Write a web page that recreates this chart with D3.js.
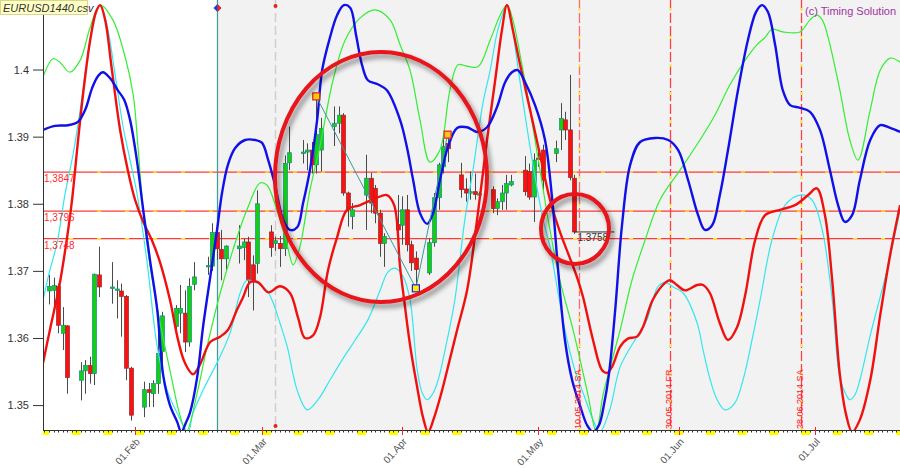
<!DOCTYPE html>
<html><head><meta charset="utf-8">
<script src="https://cdn.jsdelivr.net/npm/d3@7"></script>
<style>body{margin:0;background:#fff;}svg{display:block;font-family:"Liberation Sans",Arial,sans-serif;}</style>
</head><body><svg id="c" width="900" height="468"></svg>
<script>
// ---------- DATA ----------
const yTickValues = [1.35, 1.36, 1.37, 1.38, 1.39, 1.40];
const yTickLabels = ["1.35", "1.36", "1.37", "1.38", "1.39", "1.4"];
const monthTickDates = ["2014-02-01","2014-03-01","2014-04-01","2014-05-01","2014-06-01","2014-07-01"];
const monthTickLabels = ["01.Feb","01.Mar","01.Apr","01.May","01.Jun","01.Jul"];
const levelValues = [1.3847, 1.3789, 1.3748];
const levelLabels = ["1,3847", "1,3796", "1,3748"];
const eventDates = ["2014-05-10", "2014-05-30", "2014-06-28"];
const eventLabels = ["10.05.2014 SA", "30.05.2014 FR", "28.06.2014 SA"];
const projectionStart = "2014-02-19";
const cursorDate = "2014-03-04";
const lastPrice = {date: "2014-05-09", value: 1.3758, label: "1.3758"};
// zigzag pivots
const pivotDates = ["2014-03-13", "2014-04-04", "2014-04-11"];
const pivotValues = [1.3960, 1.3674, 1.3903];
// daily candles [date, open, high, low, close]
const candles = [
["2014-01-13",1.3670,1.3694,1.3650,1.3677],["2014-01-14",1.3671,1.3690,1.3640,1.3678],
["2014-01-15",1.3677,1.3681,1.3607,1.3619],["2014-01-16",1.3607,1.3646,1.3582,1.3619],
["2014-01-17",1.3618,1.3619,1.3517,1.3541],["2014-01-20",1.3537,1.3564,1.3507,1.3551],
["2014-01-21",1.3551,1.3567,1.3517,1.3559],["2014-01-22",1.3559,1.3572,1.3532,1.3547],
["2014-01-23",1.3547,1.3696,1.3530,1.3695],["2014-01-24",1.3694,1.3736,1.3661,1.3676],
["2014-01-27",1.3674,1.3713,1.3651,1.3676],["2014-01-28",1.3671,1.3686,1.3629,1.3673],
["2014-01-29",1.3670,1.3681,1.3602,1.3662],["2014-01-30",1.3662,1.3664,1.3537,1.3555],
["2014-01-31",1.3555,1.3557,1.3477,1.3485],["2014-02-03",1.3497,1.3535,1.3482,1.3523],
["2014-02-04",1.3523,1.3533,1.3497,1.3519],["2014-02-05",1.3517,1.3537,1.3497,1.3532],
["2014-02-06",1.3532,1.3617,1.3517,1.3577],["2014-02-07",1.3580,1.3639,1.3547,1.3633],
["2014-02-10",1.3617,1.3649,1.3605,1.3644],["2014-02-11",1.3637,1.3679,1.3607,1.3644],
["2014-02-12",1.3637,1.3671,1.3579,1.3594],["2014-02-13",1.3594,1.3689,1.3587,1.3677],
["2014-02-14",1.3680,1.3713,1.3671,1.3691],["2014-02-17",1.3706,1.3721,1.3694,1.3708],
["2014-02-18",1.3707,1.3771,1.3700,1.3757],["2014-02-19",1.3757,1.3766,1.3716,1.3733],
["2014-02-20",1.3732,1.3761,1.3686,1.3718],["2014-02-21",1.3718,1.3738,1.3701,1.3737],
["2014-02-24",1.3733,1.3768,1.3711,1.3737],["2014-02-25",1.3735,1.3748,1.3716,1.3743],
["2014-02-26",1.3743,1.3751,1.3661,1.3686],["2014-02-27",1.3709,1.3723,1.3641,1.3686],
["2014-02-28",1.3711,1.3820,1.3696,1.3800],["2014-03-03",1.3758,1.3768,1.3721,1.3735],
["2014-03-04",1.3741,1.3751,1.3730,1.3745],["2014-03-05",1.3741,1.3752,1.3706,1.3733],
["2014-03-06",1.3733,1.3872,1.3722,1.3860],["2014-03-07",1.3861,1.3915,1.3850,1.3876],
["2014-03-10",1.3875,1.3895,1.3860,1.3877],["2014-03-11",1.3877,1.3890,1.3850,1.3880],
["2014-03-12",1.3880,1.3892,1.3845,1.3858],["2014-03-13",1.3858,1.3962,1.3845,1.3903],
["2014-03-14",1.3880,1.3928,1.3848,1.3912],["2014-03-17",1.3915,1.3945,1.3886,1.3920],
["2014-03-18",1.3920,1.3945,1.3905,1.3932],["2014-03-19",1.3932,1.3935,1.3812,1.3816],
["2014-03-20",1.3816,1.3818,1.3766,1.3791],["2014-03-21",1.3781,1.3801,1.3762,1.3791],
["2014-03-24",1.3813,1.3873,1.3761,1.3838],["2014-03-25",1.3838,1.3846,1.3786,1.3801],
["2014-03-26",1.3823,1.3828,1.3771,1.3786],["2014-03-27",1.3786,1.3791,1.3721,1.3741],
["2014-03-28",1.3741,1.3756,1.3706,1.3751],["2014-03-31",1.3769,1.3813,1.3729,1.3761],
["2014-04-01",1.3768,1.3811,1.3739,1.3791],["2014-04-02",1.3791,1.3813,1.3729,1.3739],
["2014-04-03",1.3739,1.3745,1.3700,1.3712],["2014-04-04",1.3719,1.3729,1.3674,1.3702],
["2014-04-07",1.3697,1.3748,1.3694,1.3742],["2014-04-08",1.3742,1.3816,1.3736,1.3809],
["2014-04-09",1.3809,1.3861,1.3791,1.3858],["2014-04-10",1.3855,1.3898,1.3845,1.3885],
["2014-04-11",1.3890,1.3905,1.3862,1.3882],["2014-04-14",1.3843,1.3861,1.3809,1.3821],
["2014-04-15",1.3822,1.3838,1.3803,1.3816],["2014-04-16",1.3816,1.3848,1.3806,1.3818],
["2014-04-17",1.3818,1.3845,1.3806,1.3814],["2014-04-18",1.3813,1.3818,1.3808,1.3815],
["2014-04-21",1.3821,1.3826,1.3786,1.3793],["2014-04-22",1.3793,1.3808,1.3783,1.3803],
["2014-04-23",1.3803,1.3828,1.3791,1.3816],["2014-04-24",1.3816,1.3843,1.3791,1.3830],
["2014-04-25",1.3828,1.3843,1.3826,1.3833],["2014-04-28",1.3850,1.3871,1.3812,1.3818],
["2014-04-29",1.3848,1.3860,1.3806,1.3810],["2014-04-30",1.3810,1.3875,1.3773,1.3865],
["2014-05-01",1.3868,1.3878,1.3855,1.3866],["2014-05-02",1.3880,1.3888,1.3820,1.3835],
["2014-05-05",1.3875,1.3894,1.3862,1.3882],["2014-05-06",1.3910,1.3950,1.3880,1.3927],
["2014-05-07",1.3925,1.3937,1.3895,1.3910],["2014-05-08",1.3910,1.3992,1.3835,1.3839],
["2014-05-09",1.3838,1.3843,1.3755,1.3758]
];
// projection curves: [day of year 2014 (0 = 1 Jan), price]
const blueCurve = [[10.7,1.3910],[13.3,1.3916],[16.2,1.3917],[18.4,1.3922],[20.0,1.3940],[21.5,1.3972],[22.8,1.3990],[23.9,1.3996],[25.5,1.3987],[27.2,1.3969],[28.6,1.3955],[29.9,1.3925],[31.4,1.3865],[32.8,1.3791],[34.3,1.3716],[35.9,1.3642],[37.2,1.3545],[38.7,1.3500],[40.3,1.3475],[41.2,1.3460],[42.3,1.3475],[43.1,1.3488],[44.7,1.3541],[46.0,1.3616],[47.6,1.3691],[49.1,1.3761],[50.2,1.3816],[51.5,1.3858],[53.1,1.3883],[55.3,1.3895],[57.5,1.3895],[59.0,1.3891],[60.4,1.3865],[61.9,1.3828],[63.7,1.3776],[65.2,1.3761],[66.8,1.3765],[68.1,1.3801],[69.6,1.3850],[71.2,1.3925],[72.3,1.3999],[74.0,1.4047],[75.6,1.4081],[77.1,1.4096],[78.5,1.4092],[79.8,1.4051],[81.1,1.4007],[82.4,1.3984],[84.6,1.3978],[86.6,1.3969],[89.5,1.3925],[91.0,1.3885],[92.4,1.3835],[93.9,1.3786],[95.5,1.3770],[96.8,1.3786],[98.3,1.3835],[100.1,1.3885],[102.1,1.3913],[104.3,1.3914],[106.5,1.3907],[108.7,1.3914],[110.9,1.3944],[112.7,1.3981],[114.2,1.3996],[115.5,1.3999],[117.1,1.3981],[119.3,1.3947],[121.5,1.3895],[123.1,1.3806],[124.4,1.3701],[125.9,1.3597],[127.5,1.3537],[129.2,1.3500],[130.8,1.3470],[132.1,1.3460],[133.4,1.3470],[134.5,1.3500],[135.6,1.3545],[137.0,1.3642],[138.5,1.3768],[140.3,1.3858],[142.5,1.3892],[145.8,1.3898],[148.7,1.3895],[150.9,1.3880],[153.1,1.3835],[155.3,1.3783],[156.8,1.3761],[158.4,1.3768],[160.1,1.3813],[161.9,1.3880],[164.1,1.3969],[166.3,1.4044],[168.1,1.4086],[169.4,1.4096],[170.7,1.4086],[172.3,1.4037],[174.0,1.3969],[175.6,1.3947],[177.8,1.3943],[180.0,1.3937],[182.2,1.3910],[184.4,1.3850],[186.2,1.3798],[187.7,1.3773],[189.3,1.3783],[191.0,1.3835],[193.3,1.3895],[195.5,1.3917],[197.7,1.3913],[199.9,1.3907]];
const redCurve = [[10.7,1.3563],[12.2,1.3612],[14.4,1.3682],[16.0,1.3750],[17.1,1.3806],[18.2,1.3880],[19.5,1.3962],[21.1,1.4044],[22.4,1.4086],[23.3,1.4096],[24.4,1.4074],[25.9,1.3999],[27.7,1.3910],[29.4,1.3850],[31.0,1.3806],[32.8,1.3773],[34.7,1.3746],[36.5,1.3713],[38.7,1.3657],[40.5,1.3597],[42.0,1.3563],[43.8,1.3546],[45.3,1.3560],[47.6,1.3594],[49.8,1.3602],[51.5,1.3612],[53.5,1.3642],[54.8,1.3660],[56.4,1.3683],[58.2,1.3683],[60.4,1.3668],[63.0,1.3677],[65.2,1.3667],[67.0,1.3630],[68.5,1.3600],[70.3,1.3604],[71.8,1.3630],[73.6,1.3701],[75.6,1.3750],[77.8,1.3791],[80.7,1.3798],[84.4,1.3809],[86.6,1.3813],[88.2,1.3798],[89.5,1.3706],[90.4,1.3657],[91.7,1.3590],[93.2,1.3530],[94.6,1.3481],[95.7,1.3460],[97.0,1.3481],[98.5,1.3515],[99.9,1.3552],[102.1,1.3612],[104.3,1.3671],[106.5,1.3776],[108.7,1.3895],[110.5,1.3984],[112.0,1.4059],[113.1,1.4096],[114.4,1.4059],[116.0,1.4007],[118.2,1.3940],[120.4,1.3873],[122.6,1.3806],[124.8,1.3758],[127.0,1.3719],[128.8,1.3686],[129.9,1.3661],[132.1,1.3597],[134.1,1.3552],[135.2,1.3548],[136.3,1.3557],[138.1,1.3587],[139.8,1.3599],[141.8,1.3602],[143.1,1.3616],[145.3,1.3657],[148.0,1.3682],[149.1,1.3686],[150.6,1.3679],[152.4,1.3671],[155.1,1.3679],[156.4,1.3679],[157.9,1.3667],[160.1,1.3622],[161.9,1.3597],[163.9,1.3616],[165.7,1.3664],[167.9,1.3746],[170.1,1.3783],[173.4,1.3791],[176.7,1.3798],[179.6,1.3813],[181.5,1.3823],[183.3,1.3783],[184.9,1.3686],[186.6,1.3545],[188.0,1.3485],[189.3,1.3460],[191.0,1.3478],[193.3,1.3537],[195.5,1.3634],[197.7,1.3724],[199.9,1.3798]];
const greenCurve = [[10.7,1.3989],[12.9,1.4016],[14.4,1.4011],[16.6,1.3996],[18.9,1.4014],[21.1,1.4063],[23.3,1.4096],[26.1,1.4074],[28.8,1.4019],[30.6,1.3962],[31.7,1.3880],[32.8,1.3791],[34.3,1.3709],[36.5,1.3624],[38.7,1.3552],[40.9,1.3485],[42.3,1.3460],[44.7,1.3518],[46.9,1.3587],[49.8,1.3667],[52.6,1.3731],[55.7,1.3791],[58.6,1.3831],[60.1,1.3828],[62.3,1.3791],[64.5,1.3741],[65.9,1.3709],[67.4,1.3736],[69.6,1.3820],[71.8,1.3885],[74.7,1.3984],[77.4,1.4044],[80.7,1.4077],[84.0,1.4089],[87.3,1.4074],[89.5,1.4037],[91.7,1.3999],[93.9,1.3925],[96.1,1.3862],[98.3,1.3880],[100.5,1.3969],[102.3,1.4007],[104.3,1.4005],[106.7,1.4004],[109.4,1.4044],[111.6,1.4081],[113.1,1.4096],[114.4,1.4074],[116.0,1.4022],[118.2,1.3940],[120.4,1.3850],[122.6,1.3761],[124.8,1.3686],[127.7,1.3612],[129.9,1.3548],[131.0,1.3515],[132.8,1.3460],[134.3,1.3515],[136.3,1.3567],[138.1,1.3612],[140.7,1.3686],[143.6,1.3746],[146.9,1.3806],[151.3,1.3850],[155.7,1.3895],[159.0,1.3932],[162.3,1.3977],[165.7,1.4014],[168.3,1.4037],[170.1,1.4048],[171.6,1.4060],[174.0,1.4056],[177.8,1.4056],[180.0,1.4074],[181.5,1.4081],[182.7,1.4074],[184.0,1.4048],[186.6,1.3969],[188.8,1.3895],[190.6,1.3865],[193.3,1.3940],[195.5,1.3999],[197.7,1.4017],[199.9,1.4011]];
const cyanCurve = [[10.7,1.3657],[12.2,1.3701],[13.8,1.3742],[15.5,1.3813],[17.3,1.3873],[18.9,1.3940],[20.6,1.4022],[22.2,1.4081],[23.3,1.4096],[24.8,1.4066],[26.6,1.3992],[28.3,1.3917],[29.9,1.3865],[31.4,1.3816],[33.6,1.3716],[35.9,1.3587],[38.1,1.3522],[40.3,1.3488],[42.7,1.3460],[43.8,1.3488],[46.0,1.3522],[49.1,1.3563],[52.0,1.3608],[54.2,1.3667],[55.7,1.3686],[57.9,1.3682],[60.1,1.3671],[61.5,1.3652],[63.0,1.3622],[64.6,1.3587],[66.8,1.3522],[69.0,1.3493],[71.4,1.3508],[74.0,1.3537],[76.7,1.3567],[79.6,1.3597],[82.4,1.3627],[85.1,1.3671],[86.8,1.3698],[88.4,1.3704],[90.2,1.3691],[91.7,1.3657],[93.3,1.3552],[94.4,1.3518],[95.5,1.3508],[96.8,1.3518],[97.9,1.3537],[99.9,1.3597],[101.6,1.3657],[103.8,1.3776],[105.6,1.3850],[107.8,1.3950],[109.4,1.3999],[111.1,1.4059],[113.1,1.4096],[114.2,1.4066],[115.3,1.4014],[117.5,1.3914],[119.7,1.3825],[121.1,1.3776],[122.6,1.3736],[123.9,1.3686],[125.9,1.3612],[128.1,1.3552],[130.3,1.3511],[132.1,1.3478],[133.6,1.3460],[135.8,1.3493],[138.1,1.3557],[141.8,1.3602],[144.0,1.3627],[146.4,1.3676],[148.0,1.3683],[149.8,1.3676],[152.0,1.3667],[155.1,1.3622],[156.4,1.3582],[158.0,1.3537],[159.5,1.3508],[161.2,1.3493],[163.4,1.3503],[165.2,1.3537],[167.2,1.3597],[169.0,1.3657],[171.6,1.3746],[174.5,1.3798],[177.8,1.3813],[180.4,1.3806],[182.7,1.3761],[184.9,1.3657],[186.6,1.3540],[188.0,1.3515],[188.8,1.3508],[189.9,1.3515],[191.0,1.3537],[193.3,1.3604],[197.0,1.3701],[199.9,1.3791]];

// ---------- CHART ----------
const base = Date.UTC(2014, 0, 1), DAY = 864e5;
const fromDay = d => new Date(base + d * DAY);
const P = s => new Date(s + "T00:00:00Z");
const L = 43, R = 900, T = 0, B = 430;
const x = d3.scaleUtc().domain([fromDay(10.68), fromDay(199.87)]).range([L, R]);
const y = d3.scaleLinear().domain([1.34629, 1.41036]).range([B, T]);

const svg = d3.select("#c");
const defs = svg.append("defs");
defs.append("clipPath").attr("id", "plot").append("rect").attr("x", L).attr("y", T).attr("width", R - L).attr("height", B - T);
const f = defs.append("filter").attr("id", "sh").attr("x", "-20%").attr("y", "-20%").attr("width", "140%").attr("height", "140%");
f.append("feDropShadow").attr("dx", 3).attr("dy", 4).attr("stdDeviation", 2.5).attr("flood-color", "#000").attr("flood-opacity", 0.45);

svg.append("rect").attr("width", 900).attr("height", 468).attr("fill", "#fff");
const g = svg.append("g").attr("clip-path", "url(#plot)");

// shaded projection area
g.append("rect").attr("x", x(P(projectionStart))).attr("y", T)
  .attr("width", R - x(P(projectionStart))).attr("height", B - T).attr("fill", "#f2f2f2");

// horizontal level lines
levelValues.forEach(v => {
  g.append("line").attr("x1", L).attr("x2", R).attr("y1", y(v)).attr("y2", y(v)).attr("stroke", "#ff3838").attr("stroke-width", 1.3);
  g.append("line").attr("x1", L + 26).attr("x2", R).attr("y1", y(v)).attr("y2", y(v)).attr("stroke", "#ffee00").attr("stroke-width", 1.3).attr("stroke-dasharray", "4 24");
});
// event vertical lines
eventDates.forEach((d, i) => {
  const xv = Math.round(x(P(d))) + 0.5;
  g.append("line").attr("x1", xv).attr("x2", xv).attr("y1", T).attr("y2", B).attr("stroke", i === 0 ? "#ff6a6a" : "#ff4040").attr("stroke-width", 1.3).attr("stroke-dasharray", "10 3");
  g.append("line").attr("x1", xv).attr("x2", xv).attr("y1", T + 8).attr("y2", B).attr("stroke", "#ffee00").attr("stroke-width", 1.3).attr("stroke-dasharray", "3 25");
});
// projection start line & cursor line
const xs = Math.round(x(P(projectionStart))) + 0.5;
g.append("line").attr("x1", xs).attr("x2", xs).attr("y1", T).attr("y2", B).attr("stroke", "#3a9e9e").attr("stroke-width", 1.2);
const xc = Math.round(x(P(cursorDate))) + 0.5;
g.append("line").attr("x1", xc).attr("x2", xc).attr("y1", T).attr("y2", B).attr("stroke", "#cfcfcf").attr("stroke-width", 1.5).attr("stroke-dasharray", "9 4");

// candles
const cw = 3;
const cg = g.append("g");
candles.forEach(([d, o, h, l, c]) => {
  const xv = Math.round(x(P(d))) + 0.5;
  cg.append("line").attr("x1", xv).attr("x2", xv).attr("y1", y(h)).attr("y2", y(l)).attr("stroke", "#4a4a4a").attr("stroke-width", 1);
  const up = c >= o;
  const top = y(Math.max(o, c)), bot = y(Math.min(o, c));
  cg.append("rect").attr("x", xv - cw / 2 - 0.5).attr("y", top).attr("width", cw + 1).attr("height", Math.max(1.5, bot - top))
    .attr("fill", up ? "#10d010" : "#ff1010").attr("stroke", up ? "#1a8a8a" : "#8a2a2a").attr("stroke-width", 0.7);
});

// curves
const line = d3.line().x(p => x(fromDay(p[0]))).y(p => y(p[1])).curve(d3.curveCatmullRom.alpha(0.5));
g.append("path").attr("d", line(cyanCurve)).attr("fill", "none").attr("stroke", "#33e6f0").attr("stroke-width", 1.2);
g.append("path").attr("d", line(greenCurve)).attr("fill", "none").attr("stroke", "#33ee33").attr("stroke-width", 1.2);
g.append("path").attr("d", line(redCurve)).attr("fill", "none").attr("stroke", "#f01010").attr("stroke-width", 2.4);
g.append("path").attr("d", line(blueCurve)).attr("fill", "none").attr("stroke", "#1010e8").attr("stroke-width", 2.4);

// zigzag
const zz = pivotDates.map((d, i) => [x(P(d)), y(pivotValues[i])]);
g.append("path").attr("d", d3.line()(zz)).attr("fill", "none").attr("stroke", "#3a9a9a").attr("stroke-width", 1);
const mk = [["#e02020", "#ffd000"], ["#2020e0", "#ffee00"], ["#e02020", "#ffc020"]];
zz.forEach((p, i) => {
  g.append("rect").attr("x", p[0] - 3.5).attr("y", p[1] - 3.5).attr("width", 7).attr("height", 7)
    .attr("fill", mk[i][1]).attr("stroke", mk[i][0]).attr("stroke-width", 1.2);
});

// last price tag
const lx = x(P(lastPrice.date)), ly = y(lastPrice.value);
svg.append("line").attr("x1", lx).attr("x2", lx + 40).attr("y1", ly).attr("y2", ly).attr("stroke", "#333").attr("stroke-width", 1);
svg.append("text").attr("x", lx + 3).attr("y", ly + 9).attr("font-size", 10).attr("fill", "#333").text(lastPrice.label);

// level labels
levelValues.forEach((v, i) => {
  svg.append("text").attr("x", L + 1).attr("y", y(v) + 10).attr("font-size", 10).attr("fill", "#ff2a2a").text(levelLabels[i]);
});
// event labels
eventDates.forEach((d, i) => {
  const xv = Math.round(x(P(d))) + 1.5;
  svg.append("text").attr("transform", `translate(${xv},${B - 1}) rotate(-90)`).attr("font-size", 9).attr("fill", "#ff1a1a").text(eventLabels[i]);
});

// markers on vertical lines
const dx = xs;
svg.append("path").attr("d", `M${dx - 4},8 L${dx},4 L${dx},12 Z`).attr("fill", "#1a3ad0");
svg.append("path").attr("d", `M${dx + 4},8 L${dx},4 L${dx},12 Z`).attr("fill", "#e02020");
svg.append("circle").attr("cx", xc).attr("cy", 6).attr("r", 2).attr("fill", "#e82020");
svg.append("circle").attr("cx", xc).attr("cy", 426).attr("r", 2).attr("fill", "#e82020");

// annotation circles
svg.append("ellipse").attr("cx", 381).attr("cy", 177).attr("rx", 106).attr("ry", 125)
  .attr("fill", "none").attr("stroke", "#e8141a").attr("stroke-width", 4).attr("filter", "url(#sh)");
svg.append("ellipse").attr("cx", 575).attr("cy", 229).attr("rx", 34).attr("ry", 35)
  .attr("fill", "none").attr("stroke", "#e8141a").attr("stroke-width", 4).attr("filter", "url(#sh)");

// ---------- AXES ----------
const ya = svg.append("g").attr("transform", `translate(${L},0)`)
  .call(d3.axisLeft(y).tickValues(yTickValues).tickFormat((d, i) => yTickLabels[i]).tickSize(10).tickPadding(4));
ya.select(".domain").remove();
ya.selectAll(".tick line").attr("stroke", "#333");
ya.selectAll(".tick text").attr("font-size", 11).attr("fill", "#333").attr("font-family", "Liberation Sans, Arial, sans-serif");
svg.append("line").attr("x1", L + 0.5).attr("x2", L + 0.5).attr("y1", T).attr("y2", B).attr("stroke", "#333");

// weekend markers
const [d0, d1] = x.domain();
d3.utcSaturday.range(new Date(+d0 - 2 * DAY), d1).forEach(s => {
  const a = Math.max(L, x(s)), b = Math.min(R, x(new Date(+s + 2 * DAY)));
  if (b > a) svg.append("rect").attr("x", a).attr("y", B).attr("width", b - a).attr("height", 5).attr("fill", "#ffff00");
});
// daily ticks
d3.utcDay.range(d0, d1).forEach(d => {
  const xv = Math.round(x(d)) + 0.5;
  svg.append("line").attr("x1", xv).attr("x2", xv).attr("y1", B).attr("y2", B + 2.5).attr("stroke", "#333").attr("stroke-width", 1);
});
svg.append("line").attr("x1", L).attr("x2", R).attr("y1", B + 0.5).attr("y2", B + 0.5).attr("stroke", "#333").attr("stroke-width", 1.2);
// month ticks & labels
monthTickDates.forEach((d, i) => {
  const xv = Math.round(x(P(d))) + 0.5;
  svg.append("line").attr("x1", xv).attr("x2", xv).attr("y1", B - 3).attr("y2", B + 5).attr("stroke", "#ff2020").attr("stroke-width", 1);
  svg.append("text").attr("transform", `translate(${xv + 5},${B + 12}) rotate(-48)`).attr("text-anchor", "end")
    .attr("font-size", 10).attr("fill", "#555").text(monthTickLabels[i]);
});

// titles
svg.append("rect").attr("x", 0.5).attr("y", 0.5).attr("width", 87).attr("height", 14).attr("fill", "#ffffc4").attr("stroke", "#d6d690");
svg.append("text").attr("x", 3).attr("y", 11.5).attr("font-size", 11).attr("font-style", "italic").attr("fill", "#333").text("EURUSD1440.csv");
svg.append("text").attr("x", 805).attr("y", 15).attr("font-size", 11).attr("fill", "#a035a0").text("(c) Timing Solution");
</script></body></html>
